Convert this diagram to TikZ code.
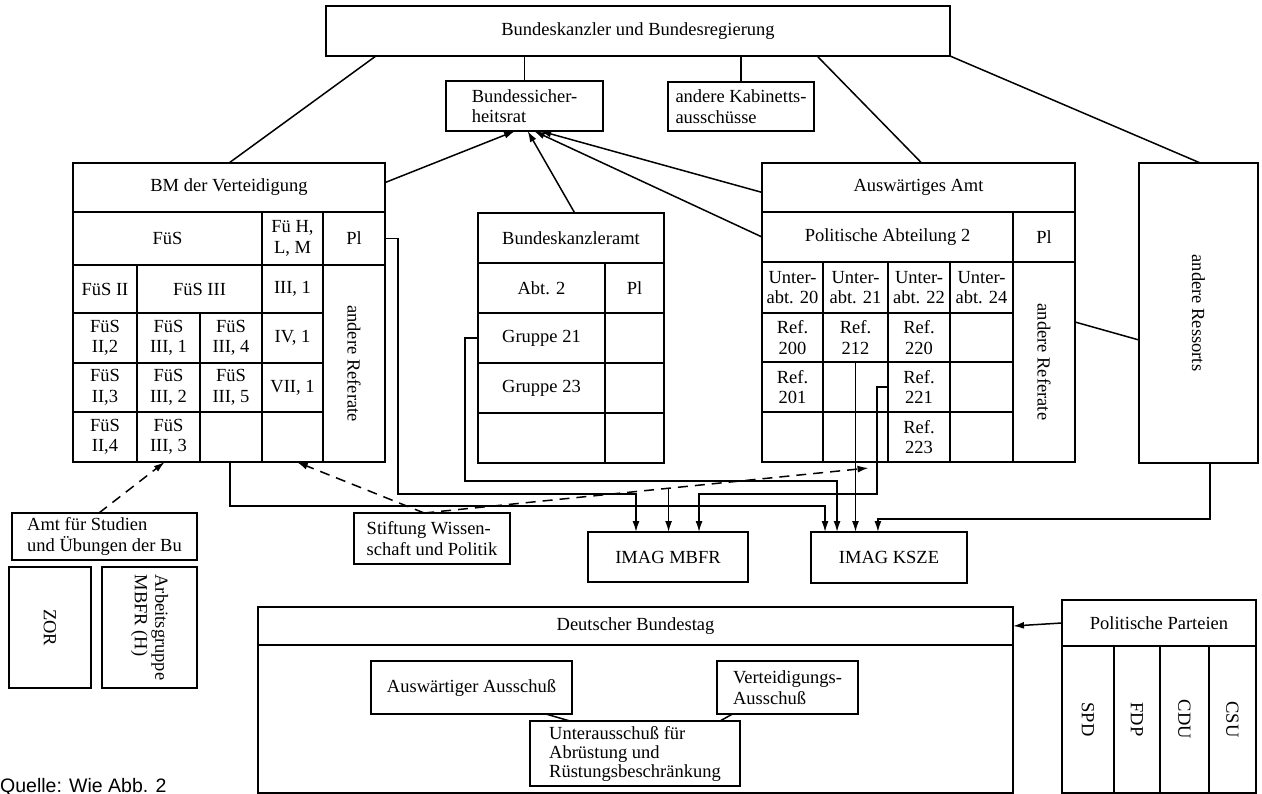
\documentclass[tikz,border=0pt]{standalone}
\usepackage{fontspec}
\setmainfont{Liberation Serif}
\newfontfamily\qsans{Liberation Sans}
\usetikzlibrary{arrows.meta,calc}
\newcommand\mf{\fontsize{18.5}{20.5}\selectfont}
\newcommand\cel[7][]{\node[cellbox,#1,minimum width={(#5-#3)*1pt},minimum height={(#6-#4)*1pt}] (#2) at ({(#3+#5)/2},{(#4+#6)/2}) {#7};}
\begin{document}
\begin{tikzpicture}[x=1pt,y=-1pt,
  every node/.style={font=\mf},
  cellbox/.style={draw,line width=1.7pt,inner sep=0pt,outer sep=0pt,align=center},
  conn/.style={line width=1.5pt},
  arr/.style={conn,-{Latex[length=11pt,width=7pt]}},
  darr/.style={arr,dash pattern=on 10pt off 7pt},
  vtext/.style={rotate=-90,inner sep=0pt}]
\useasboundingbox (0,0) rectangle (1262,794);

% top
\cel{kanzler}{326}{6}{950}{56}{Bundeskanzler und Bundesregierung}
\cel[align=left]{bsr}{446}{81}{603}{131}{Bundessicher-\\heitsrat}
\cel[align=left]{kab}{668}{82}{814}{131}{andere Kabinetts-\\ausschüsse}

% BMVg
\cel{bm}{73}{163}{385}{212}{BM der Verteidigung}
\cel{fues}{73}{212}{262}{265}{FüS}
\cel{fuehlm}{262}{212}{323}{265}{Fü H,\\L, M}
\cel{bmpl}{323}{212}{385}{265}{Pl}
\cel{fues2}{73}{265}{137}{313}{FüS II}
\cel{fues3}{137}{265}{262}{313}{FüS III}
\cel{r31}{262}{265}{323}{313}{III, 1}
\cel{bmand}{323}{265}{385}{462}{}
\node[vtext] (bmandt) at (bmand.center) {andere Referate};
\cel{f22}{73}{313}{137}{363}{FüS\\II,2}
\cel{f31}{137}{313}{200}{363}{FüS\\III, 1}
\cel{f34}{200}{313}{262}{363}{FüS\\III, 4}
\cel{r41}{262}{313}{323}{363}{IV, 1}
\cel{f23}{73}{363}{137}{412}{FüS\\II,3}
\cel{f32}{137}{363}{200}{412}{FüS\\III, 2}
\cel{f35}{200}{363}{262}{412}{FüS\\III, 5}
\cel{r71}{262}{363}{323}{412}{VII, 1}
\cel{f24}{73}{412}{137}{462}{FüS\\II,4}
\cel{f33}{137}{412}{200}{462}{FüS\\III, 3}
\cel{e1}{200}{412}{262}{462}{}
\cel{e2}{262}{412}{323}{462}{}

% Bundeskanzleramt
\cel{bka}{478}{213}{664}{263}{Bundeskanzleramt}
\cel{abt2}{478}{263}{605}{313}{Abt. 2}
\cel{bkapl}{605}{263}{664}{313}{Pl}
\cel{g21}{478}{313}{605}{363}{Gruppe 21}
\cel{bke1}{605}{313}{664}{363}{}
\cel{g23}{478}{363}{605}{413}{Gruppe 23}
\cel{bke2}{605}{363}{664}{413}{}
\cel{bke3}{478}{413}{605}{463}{}
\cel{bke4}{605}{413}{664}{463}{}

% Auswaertiges Amt
\cel{aa}{762}{163}{1075}{212}{Auswärtiges Amt}
\cel{pa2}{762}{212}{1013}{262}{Politische Abteilung 2}
\cel{aapl}{1013}{212}{1075}{262}{Pl}
\cel{u20}{762}{262}{823}{313}{Unter-\\abt. 20}
\cel{u21}{823}{262}{888}{313}{Unter-\\abt. 21}
\cel{u22}{888}{262}{950}{313}{Unter-\\abt. 22}
\cel{u24}{950}{262}{1013}{313}{Unter-\\abt. 24}
\cel{aaand}{1013}{262}{1075}{462}{}
\node[vtext] (aaandt) at (aaand.center) {andere Referate};
\cel{ref200}{762}{313}{823}{362}{Ref.\\200}
\cel{ref212}{823}{313}{888}{362}{Ref.\\212}
\cel{ref220}{888}{313}{950}{362}{Ref.\\220}
\cel{aae1}{950}{313}{1013}{362}{}
\cel{ref201}{762}{362}{823}{412}{Ref.\\201}
\cel{aae2}{823}{362}{888}{412}{}
\cel{ref221}{888}{362}{950}{412}{Ref.\\221}
\cel{aae3}{950}{362}{1013}{412}{}
\cel{aae4}{762}{412}{823}{462}{}
\cel{aae5}{823}{412}{888}{462}{}
\cel{ref223}{888}{412}{950}{462}{Ref.\\223}
\cel{aae6}{950}{412}{1013}{462}{}

% andere Ressorts
\cel{ress}{1139}{163}{1258}{463}{}
\node[vtext] (resst) at (ress.center) {andere Ressorts};

% middle
\cel[align=left]{swp}{354}{513}{510}{564}{Stiftung Wissen-\\schaft und Politik}
\cel{mbfr}{588}{532}{748}{582}{IMAG MBFR}
\cel{kze}{811}{532}{967}{583}{IMAG KSZE}

% left bottom
\cel[align=left]{afs}{12}{513}{197}{560}{Amt für Studien\\und Übungen der Bu}
\cel{zor}{9}{567}{91}{688}{}
\node[vtext] (zort) at (zor.center) {ZOR};
\cel{agm}{102}{567}{197}{688}{}
\node[vtext,align=left] (agmt) at (agm.center) {Arbeitsgruppe\\MBFR (H)};

% Bundestag
\cel{bt}{258}{607}{1013}{645}{Deutscher Bundestag}
\cel{btb}{258}{645}{1013}{793}{}
\cel{ausa}{371}{661}{572}{714}{Auswärtiger Ausschuß}
\cel[align=left]{vta}{717}{661}{858}{714}{Verteidigungs-\\Ausschuß}
\cel[align=left,font=\fontsize{18.5}{19}\selectfont]{uab}{530}{721}{740}{786}{Unterausschuß für\\Abrüstung und\\Rüstungsbeschränkung}

% Parteien
\cel{pp}{1062}{600}{1256}{646}{Politische Parteien}
\cel{spd}{1062}{646}{1114}{793}{}
\cel{fdp}{1114}{646}{1160}{793}{}
\cel{cdu}{1160}{646}{1209}{793}{}
\cel{csu}{1209}{646}{1256}{793}{}
\node[vtext] (spdt) at (spd.center) {SPD};
\node[vtext] (fdpt) at (fdp.center) {FDP};
\node[vtext] (cdut) at (cdu.center) {CDU};
\node[vtext] (csut) at (csu.center) {CSU};

\node[anchor=base west,inner sep=0pt,font=\qsans\fontsize{19.5}{20}\selectfont] (quelle) at (0,792) {Quelle: Wie Abb. 2};

% connectors
\draw[conn] (bsr.north) -- (bsr.north |- kanzler.south);
\draw[conn] (kab.north) -- (kab.north |- kanzler.south);
\draw[conn] (bm.north) -- ($(kanzler.south west)!0.08!(kanzler.south east)$);
\draw[conn] ($(kanzler.south west)!0.787!(kanzler.south east)$) -- ($(aa.north west)!0.51!(aa.north east)$);
\draw[conn] (kanzler.south east) -- ($(ress.north west)!0.515!(ress.north east)$);

\draw[arr] ($(bm.north east)!0.4!(bm.south east)$) -- ($(bsr.south west)!0.44!(bsr.south east)$);
\draw[arr] ($(bka.north west)!0.52!(bka.north east)$) -- ($(bsr.south west)!0.52!(bsr.south east)$);
\draw[arr] ($(aa.north west)!0.6!(aa.south west)$) -- ($(bsr.south west)!0.6!(bsr.south east)$);
\draw[arr] (pa2.west) -- ($(bsr.south west)!0.56!(bsr.south east)$);

\draw[conn] ($(aaand.north east)!0.3!(aaand.south east)$) -- ($(ress.north west)!0.59!(ress.south west)$);

\coordinate (c11) at (398,494);
\draw[arr] (bmpl.east) -| (c11) -| ($(mbfr.north west)!0.3!(mbfr.north east)$);
\coordinate (c12) at (230,506);
\draw[arr] (c12 |- e1.south) -- (c12) -| ($(kze.north west)!0.09!(kze.north east)$);
\coordinate (c13) at (465,481);
\draw[arr] (g21.west) -| (c13) -| ($(kze.north west)!0.167!(kze.north east)$);
\draw[arr] (ref212.south) -- (ref212.south |- kze.north);
\coordinate (c15) at (877,494);
\draw[arr] (ref221.west) -| (c15) -| ($(mbfr.north west)!0.694!(mbfr.north east)$);
\coordinate (c16) at (1210,519);
\draw[arr] (c16 |- ress.south) -- (c16) -| ($(kze.north west)!0.429!(kze.north east)$);

\coordinate (swtop) at ($(swp.north west)!0.45!(swp.north east)$);
\coordinate (dashend) at ($(aae5.south west)!0.7!(aae5.south east)+(0,6)$);
\draw[darr] (swtop) -- ($(e2.south west)!0.57!(e2.south east)$);
\draw[darr] (swtop) -- (dashend);
\coordinate (c19) at ($(swtop)!0.55!(dashend)$);
\draw[arr] (c19) -- (c19 |- mbfr.north);
\draw[darr] ($(afs.north west)!0.47!(afs.north east)$) -- ($(f33.south west)!0.44!(f33.south east)$);

\draw[arr] (pp.west) -- (bt.east);
\draw[conn] ($(ausa.south west)!0.87!(ausa.south east)$) -- ($(uab.north west)!0.19!(uab.north east)$);
\draw[conn] ($(vta.south west)!0.11!(vta.south east)$) -- ($(uab.north west)!0.905!(uab.north east)$);
\end{tikzpicture}
\end{document}
